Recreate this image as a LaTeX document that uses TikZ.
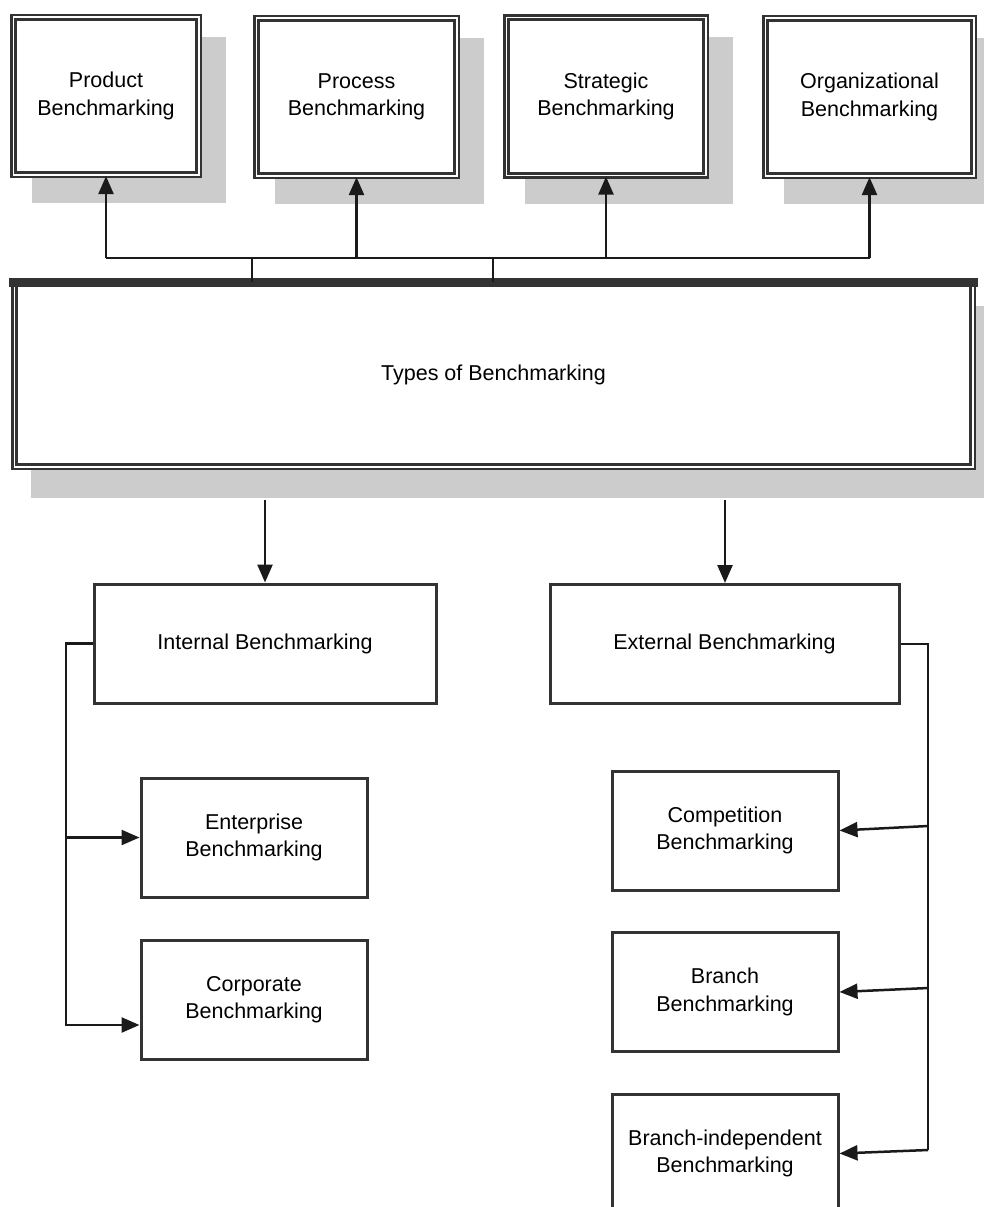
\documentclass[tikz,border=0pt]{standalone}
\usepackage{fontspec}
\setmainfont{Liberation Sans}
\usetikzlibrary{arrows.meta,calc,backgrounds}
\definecolor{linec}{HTML}{333333}
\definecolor{connc}{HTML}{1A1A1A}
\definecolor{shadowc}{HTML}{CCCCCC}
\begin{document}
\begin{tikzpicture}[x=1pt,y=-1pt,
  txt/.style={font=\fontsize{21.5}{27.5}\selectfont, align=center, text=black},
  topbox/.style={txt, draw=linec, double=white, line width=2.75pt, double distance=1.5pt,
    fill=white, minimum width=#1, minimum height=157.5, inner sep=0pt},
  bigbox/.style={txt, draw=linec, double=white, line width=2.75pt, double distance=1.5pt,
    fill=white, minimum width=958.5, minimum height=183.5, inner sep=0pt},
  plainbox/.style={txt, draw=linec, line width=3pt, fill=white,
    minimum width=#1, minimum height=119, inner sep=0pt},
  conn/.style={draw=connc, line width=2.5pt},
  arr/.style={conn, -{Triangle[length=18pt,width=15pt]}}
]
\clip (0,0) rectangle (983,1207);

% top row
\node[topbox=185.5] (p1) at (106,96)   {Product\\Benchmarking};
\node[topbox=200.5] (p2) at (356.5,97) {Process\\Benchmarking};
\node[topbox=199.5] (p3) at (606,96.5) {Strategic\\Benchmarking};
\node[topbox=208.5] (p4) at (869.5,97) {Organizational\\Benchmarking};

% central box
\node[bigbox] (big) at (493.5,375) {Types of Benchmarking};
\fill[linec] ($(big.north west)+(-3.5,-3.5)$) rectangle ($(big.north east)+(3.5,5.5)$);

% second level
\node[plainbox=342] (int) at (265,643.5) {Internal Benchmarking};
\node[plainbox=349] (ext) at (724.5,644) {External Benchmarking};

% internal children
\node[plainbox=226] (ent) at (254,837.5) {Enterprise\\Benchmarking};
\node[plainbox=226] (cor) at (254,999.5) {Corporate\\Benchmarking};

% external children
\node[plainbox=226] (com) at (725,830.5)  {Competition\\Benchmarking};
\node[plainbox=226] (bra) at (725,992)    {Branch\\Benchmarking};
\node[plainbox=226] (bri) at (725,1153.5) {Branch-independent\\Benchmarking};

% shadows
\begin{pgfonlayer}{background}
  \foreach \n in {p1,p2,p3,p4}{
    \fill[shadowc] ($(\n.north west)+(20,21)$) rectangle ($(\n.south east)+(26,27)$);
  }
  \fill[shadowc] ($(big.north west)+(18,24)$) rectangle ($(big.south east)+(24,30)$);
\end{pgfonlayer}

% bus above central box
\coordinate (busy) at (0,258);
\draw[conn] (p1.south |- busy) -- (p4.south |- busy);
\foreach \n in {p1,p2,p3,p4}{
  \draw[arr] (\n.south |- busy) -- (\n.south);
}
\coordinate (s1) at (252,258);
\coordinate (s2) at (493,258);
\draw[conn] (s1) -- (s1 |- big.north);
\draw[conn] (s2) -- (s2 |- big.north);

% down arrows
\coordinate (d1) at (265,500);
\coordinate (d2) at (725,500);
\draw[arr] (d1) -- (d1 |- int.north);
\draw[arr] (d2) -- (d2 |- ext.north);

% internal connector
\coordinate (lx) at (66,0);
\coordinate (cin) at ($(cor.west)+(0,25.5)$);
\draw[arr] (int.west) -| (lx |- cin) -- (cin);
\draw[arr] (lx |- ent.west) -- (ent.west);

% external connector
\coordinate (r1) at (928,826);
\coordinate (r2) at (928,988);
\coordinate (r3) at (928,1150);
\draw[conn] (ext.east) -| (r3);
\draw[arr] (r1) -- (com.east);
\draw[arr] (r2) -- (bra.east);
\draw[arr] (r3) -- (bri.east);
\end{tikzpicture}
\end{document}
